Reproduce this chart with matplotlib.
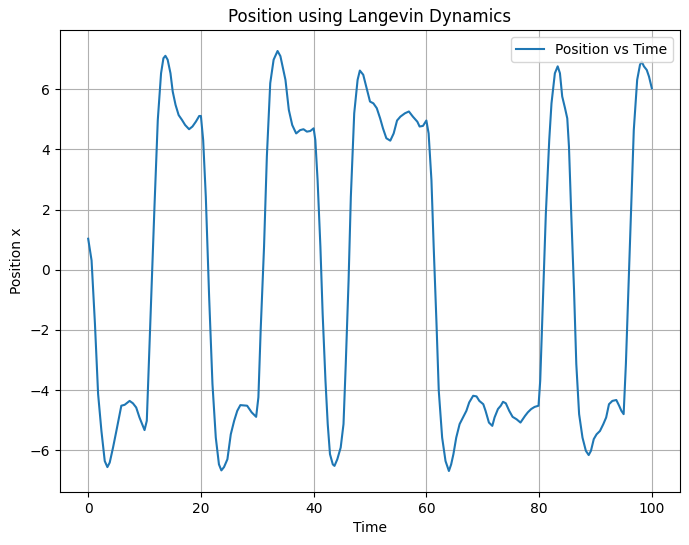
import matplotlib
matplotlib.use("Agg")
import matplotlib.pyplot as plt
import numpy as np

# ---------------------------------------------------------------------------
# Data
# ---------------------------------------------------------------------------
TIME = np.array([
    0.0, 0.6, 1.2, 1.76, 2.35, 2.94, 3.41, 3.82, 4.41, 5.0, 5.58, 5.88, 6.47,
    7.35, 7.94, 8.52, 9.1, 10.0, 10.4, 10.76, 11.17, 11.76, 12.35, 12.93,
    13.35, 13.7, 14.1, 14.6, 15.0, 15.5, 16.05, 16.64, 17.2, 17.9, 18.5, 19.1,
    19.7, 20.0, 20.4, 20.87, 21.46, 22.05, 22.64, 23.2, 23.63, 24.1, 24.7,
    25.3, 25.9, 26.45, 27.0, 28.2, 29.0, 29.8, 30.2, 30.6, 31.2, 31.7, 32.3,
    32.9, 33.6, 34.1, 35.0, 35.6, 36.2, 36.9, 37.6, 38.2, 38.8, 39.4, 40.0,
    40.3, 40.7, 41.2, 41.6, 42.1, 42.5, 42.9, 43.4, 43.7, 44.2, 44.8, 45.3,
    45.7, 46.2, 46.6, 47.2, 47.8, 48.2, 48.8, 49.4, 50.0, 50.6, 51.2, 51.8,
    52.3, 52.9, 53.6, 54.2, 54.8, 55.4, 56.2, 56.9, 57.6, 58.4, 58.8, 59.4,
    60.0, 60.4, 60.9, 61.3, 61.8, 62.2, 62.8, 63.4, 64.0, 64.4, 64.8, 65.3,
    65.9, 66.5, 67.1, 67.6, 68.3, 68.9, 69.4, 70.1, 70.5, 71.1, 71.7, 72.1,
    72.7, 73.2, 73.6, 74.1, 74.7, 75.3, 76.0, 76.7, 77.5, 78.0, 78.6, 79.2,
    79.9, 80.2, 80.7, 81.2, 81.8, 82.2, 82.8, 83.3, 83.7, 84.1, 84.6, 85.0,
    85.3, 85.7, 86.2, 86.6, 87.1, 87.7, 88.3, 88.8, 89.2, 89.7, 90.2, 90.8,
    91.4, 91.9, 92.4, 93.0, 93.7, 94.2, 94.6, 95.0, 95.4, 95.8, 96.3, 96.8,
    97.4, 97.9, 98.2, 98.6, 99.1, 99.5, 100.0,
])

POSITION = np.array([
    1.03, 0.31, -1.8, -4.13, -5.36, -6.36, -6.56, -6.41, -5.91, -5.36, -4.8,
    -4.52, -4.49, -4.36, -4.44, -4.58, -4.91, -5.33, -5.02, -3.13, -0.91,
    2.09, 4.98, 6.53, 7.03, 7.11, 6.98, 6.53, 5.92, 5.48, 5.14, 4.98, 4.81,
    4.67, 4.76, 4.92, 5.11, 5.11, 4.31, 2.42, -0.91, -3.8, -5.58, -6.47,
    -6.67, -6.56, -6.3, -5.47, -5.02, -4.69, -4.5, -4.52, -4.74, -4.89, -4.24,
    -2.02, 0.76, 3.76, 6.2, 6.98, 7.27, 7.1, 6.31, 5.31, 4.81, 4.53, 4.64,
    4.67, 4.59, 4.61, 4.7, 4.31, 2.98, 0.76, -1.47, -3.69, -5.13, -6.13,
    -6.47, -6.52, -6.3, -5.91, -5.13, -3.13, -0.36, 2.42, 5.2, 6.31, 6.62,
    6.48, 6.03, 5.59, 5.53, 5.37, 5.03, 4.7, 4.37, 4.29, 4.53, 4.96, 5.09,
    5.2, 5.26, 5.09, 4.92, 4.76, 4.78, 4.96, 4.53, 2.98, 0.76, -1.8, -4.02,
    -5.58, -6.36, -6.69, -6.47, -6.13, -5.58, -5.13, -4.91, -4.69, -4.41,
    -4.19, -4.21, -4.36, -4.47, -4.69, -5.08, -5.19, -4.91, -4.63, -4.52,
    -4.39, -4.44, -4.69, -4.89, -4.97, -5.08, -4.86, -4.74, -4.63, -4.56,
    -4.52, -3.69, -0.91, 1.87, 4.31, 5.53, 6.53, 6.76, 6.53, 5.76, 5.37,
    5.03, 4.09, 1.87, -0.69, -3.13, -4.8, -5.58, -6.02, -6.16, -6.02, -5.63,
    -5.47, -5.36, -5.13, -4.91, -4.47, -4.36, -4.33, -4.52, -4.69, -4.8,
    -3.13, -0.91, 1.87, 4.64, 6.31, 6.81, 6.92, 6.76, 6.64, 6.42, 6.03,
])

# ---------------------------------------------------------------------------
# Plot
# ---------------------------------------------------------------------------
fig, ax = plt.subplots(figsize=(6.89, 5.45), dpi=100)
fig.subplots_adjust(left=60 / 689, right=680 / 689, top=1 - 30 / 545,
                    bottom=1 - 492 / 545)

ax.plot(TIME, POSITION, color="#1f77b4", lw=1.5, label="Position vs Time")
ax.set_title("Position using Langevin Dynamics")
ax.set_xlabel("Time")
ax.set_ylabel("Position x")
ax.grid(True)
ax.legend(loc="upper right")

fig.savefig("out.png", dpi=100)
